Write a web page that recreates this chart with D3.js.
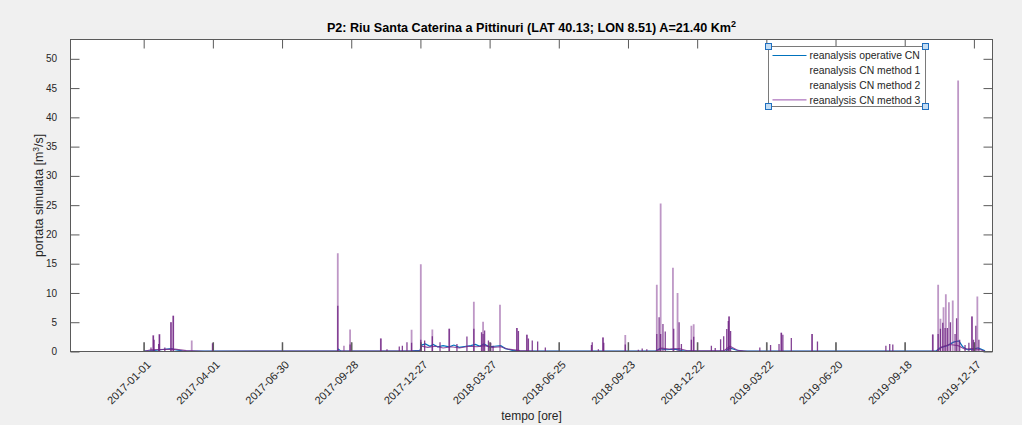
<!DOCTYPE html>
<html>
<head>
<meta charset="utf-8">
<script src="https://cdn.jsdelivr.net/npm/d3@7"></script>
<style>
  html, body { margin: 0; padding: 0; background: #f0f0f0; }
  svg { display: block; font-family: "Liberation Sans", Arial, Helvetica, sans-serif; }
</style>
</head>
<body>
<svg id="chart" width="1022" height="425"></svg>
<script>
// ---- Chart text ----
const titleMain = "P2: Riu Santa Caterina a Pittinuri (LAT 40.13; LON 8.51) A=21.40 Km";
const titleSup = "2";
const xLabel = "tempo [ore]";
const yLabelMain = "portata simulata [m";
const yLabelSup = "3";
const yLabelEnd = "/s]";

// ---- Axes ----
const xLimits = ["2016-09-27T19:00:00Z", "2020-01-10T05:00:00Z"];
const yLimits = [0, 53.3];
const yTicks = [0, 5, 10, 15, 20, 25, 30, 35, 40, 45, 50];
const xTickDates = ["2017-01-01", "2017-04-01", "2017-06-30", "2017-09-28", "2017-12-27",
  "2018-03-27", "2018-06-25", "2018-09-23", "2018-12-22", "2019-03-22",
  "2019-06-20", "2019-09-18", "2019-12-17"];

// ---- Legend ----
const legendNames = ["reanalysis operative CN", "reanalysis CN method 1",
  "reanalysis CN method 2", "reanalysis CN method 3"];

// ---- Series: reanalysis operative CN (slow flow, m3/s) ----
const operativeFlow = [
  ["2017-01-01", 0.05], ["2017-01-12", 0.15], ["2017-01-22", 0.3], ["2017-02-06", 0.5],
  ["2017-02-10", 0.3], ["2017-02-20", 0.1], ["2017-03-10", 0.05], ["2017-09-10", 0.05],
  ["2017-09-11", 0.4], ["2017-09-14", 0.05], ["2017-12-15", 0.1], ["2017-12-26", 0.2],
  ["2017-12-28", 1.1], ["2018-01-02", 1.3], ["2018-01-08", 0.9], ["2018-01-12", 1.2],
  ["2018-01-18", 0.8], ["2018-01-25", 1.0], ["2018-02-02", 0.8], ["2018-02-08", 1.1],
  ["2018-02-15", 0.7], ["2018-02-24", 0.9], ["2018-03-02", 1.0], ["2018-03-08", 1.2],
  ["2018-03-14", 0.9], ["2018-03-19", 1.3], ["2018-03-26", 0.8], ["2018-04-02", 0.9],
  ["2018-04-10", 1.0], ["2018-04-16", 0.5], ["2018-04-25", 0.2], ["2018-05-05", 0.1],
  ["2018-05-20", 0.05], ["2018-10-28", 0.05], ["2018-11-03", 0.5], ["2018-11-12", 0.3],
  ["2018-11-22", 0.4], ["2018-12-02", 0.15], ["2018-12-20", 0.05], ["2019-01-28", 0.1],
  ["2019-02-02", 0.6], ["2019-02-10", 0.25], ["2019-02-20", 0.05], ["2019-10-28", 0.05],
  ["2019-11-02", 0.6], ["2019-11-12", 1.0], ["2019-11-20", 1.6], ["2019-11-27", 1.8],
  ["2019-12-02", 0.8], ["2019-12-08", 0.3], ["2019-12-16", 0.4], ["2019-12-22", 0.6],
  ["2019-12-31", 0.1]
];

// ---- Series: reanalysis CN method 1 (quarterly check peaks) ----
const method1Peaks = xTickDates.map(d => [d, 1.6]);

// ---- Series: reanalysis CN method 2 (flood peaks) ----
const method2Peaks = [
  ["2017-01-13", 2.8], ["2017-01-21", 3.0], ["2017-02-05", 5.0], ["2017-02-08", 6.1],
  ["2017-03-04", 1.9], ["2017-09-10", 16.8], ["2017-09-18", 1.0], ["2017-09-26", 3.75],
  ["2017-11-05", 2.2], ["2017-12-15", 3.7], ["2017-12-27", 14.9], ["2018-01-11", 3.75],
  ["2018-02-02", 3.9], ["2018-03-06", 8.5], ["2018-03-18", 5.1], ["2018-04-09", 8.0],
  ["2018-05-01", 4.0], ["2018-05-14", 2.85], ["2018-08-21", 2.4], ["2018-09-19", 2.8],
  ["2018-10-30", 11.4], ["2018-11-04", 25.3], ["2018-11-20", 14.3], ["2018-11-26", 10.0],
  ["2018-12-14", 4.4], ["2018-12-17", 4.65], ["2019-02-01", 6.0], ["2019-04-10", 3.2],
  ["2019-05-20", 3.0], ["2019-10-24", 2.9], ["2019-10-31", 11.4], ["2019-11-03", 5.6],
  ["2019-11-07", 7.55], ["2019-11-10", 9.8], ["2019-11-14", 8.4], ["2019-11-19", 8.7],
  ["2019-11-26", 46.3], ["2019-12-14", 6.0], ["2019-12-21", 9.4]
];

// ---- Series: reanalysis CN method 3 (slow flow and peaks) ----
const method3Flow = [
  ["2017-01-01", 0.05], ["2017-01-10", 0.3], ["2017-02-10", 0.4], ["2017-02-25", 0.15],
  ["2017-03-20", 0.05], ["2017-12-26", 0.1], ["2017-12-28", 0.9], ["2018-01-05", 0.7],
  ["2018-01-15", 0.9], ["2018-01-25", 0.6], ["2018-02-05", 0.8], ["2018-02-15", 0.6],
  ["2018-02-28", 0.9], ["2018-03-10", 0.8], ["2018-03-20", 1.0], ["2018-03-30", 0.7],
  ["2018-04-10", 0.8], ["2018-04-20", 0.4], ["2018-05-05", 0.15], ["2018-05-25", 0.05],
  ["2018-10-30", 0.05], ["2018-11-05", 0.6], ["2018-11-15", 0.4], ["2018-11-28", 0.5],
  ["2018-12-10", 0.1], ["2019-01-25", 0.1], ["2019-02-02", 0.9], ["2019-02-12", 0.2],
  ["2019-02-25", 0.05], ["2019-10-30", 0.05], ["2019-11-05", 0.8], ["2019-11-15", 1.2],
  ["2019-11-26", 1.0], ["2019-12-05", 0.4], ["2019-12-15", 0.5], ["2019-12-25", 0.3],
  ["2019-12-31", 0.05]
];
const method3Peaks = [
  ["2017-01-10", 0.7], ["2017-01-13", 2.7], ["2017-01-14", 2.0], ["2017-01-20", 1.3],
  ["2017-01-21", 2.9], ["2017-01-28", 0.7], ["2017-02-05", 5.0], ["2017-02-08", 6.1],
  ["2017-03-31", 1.4], ["2017-09-10", 7.8], ["2017-09-26", 1.2], ["2017-11-05", 2.2],
  ["2017-11-13", 0.4], ["2017-11-29", 0.85], ["2017-12-03", 1.0], ["2017-12-09", 1.6],
  ["2017-12-15", 1.5], ["2017-12-27", 2.0], ["2018-01-01", 1.9], ["2018-01-11", 2.6],
  ["2018-01-21", 1.6], ["2018-02-02", 3.9], ["2018-02-12", 1.3], ["2018-02-25", 2.55],
  ["2018-03-06", 3.9], ["2018-03-16", 3.3], ["2018-03-18", 3.0], ["2018-03-20", 3.6],
  ["2018-03-25", 1.9], ["2018-03-28", 1.5], ["2018-03-31", 1.0], ["2018-05-01", 4.0],
  ["2018-05-03", 3.5], ["2018-05-14", 2.85], ["2018-05-16", 2.2], ["2018-05-21", 1.9],
  ["2018-05-28", 1.7], ["2018-06-07", 0.7], ["2018-08-06", 1.1], ["2018-08-07", 1.6],
  ["2018-08-15", 0.4], ["2018-08-21", 2.4], ["2018-08-22", 1.5], ["2018-09-19", 1.2],
  ["2018-10-06", 0.3], ["2018-10-11", 0.5], ["2018-10-17", 0.4], ["2018-10-30", 3.0],
  ["2018-11-02", 5.85], ["2018-11-04", 3.0], ["2018-11-07", 4.7], ["2018-11-10", 3.4],
  ["2018-11-21", 3.9], ["2018-11-28", 5.0], ["2018-12-01", 1.3], ["2018-12-14", 2.0],
  ["2018-12-17", 2.5], ["2019-01-09", 1.0], ["2019-01-14", 0.6], ["2019-01-21", 2.1],
  ["2019-01-25", 2.6], ["2019-01-29", 3.85], ["2019-01-31", 5.2], ["2019-02-01", 6.0],
  ["2019-02-03", 3.5], ["2019-03-13", 0.7], ["2019-03-27", 1.1], ["2019-04-07", 1.3],
  ["2019-04-10", 3.2], ["2019-04-12", 2.85], ["2019-04-23", 2.3], ["2019-05-20", 3.0],
  ["2019-05-27", 1.7], ["2019-08-24", 1.0], ["2019-08-29", 1.3], ["2019-09-02", 1.2],
  ["2019-10-24", 2.9], ["2019-10-31", 3.0], ["2019-11-03", 3.9], ["2019-11-06", 4.9],
  ["2019-11-09", 4.0], ["2019-11-12", 4.0], ["2019-11-16", 5.0], ["2019-11-22", 3.0],
  ["2019-11-24", 5.7], ["2019-11-28", 2.0], ["2019-12-05", 1.1], ["2019-12-10", 1.5],
  ["2019-12-14", 6.0], ["2019-12-16", 2.0], ["2019-12-19", 4.4], ["2019-12-23", 2.0]
];

// ---- Drawing ----
const parse = s => new Date(s.length === 10 ? s + "T12:00:00Z" : s);
const parseTick = s => new Date(s + "T00:00:00Z");

const svg = d3.select("#chart");
const plot = { left: 70.5, right: 992.5, top: 39.5, bottom: 351.5 };

const x = d3.scaleUtc().domain(xLimits.map(s => new Date(s))).range([plot.left, plot.right]);
const y = d3.scaleLinear().domain(yLimits).range([plot.bottom, plot.top]);

const colors = {
  blue: "#0072BD",
  purple: "#7E2F8E",
  darkPurple: "#6e2282",
  gray: "#4a4a4a",
  axis: "#5a5a5a",
  text: "#262626"
};

// axes background
svg.append("rect")
  .attr("x", plot.left).attr("y", plot.top)
  .attr("width", plot.right - plot.left).attr("height", plot.bottom - plot.top)
  .attr("fill", "#ffffff");

svg.append("defs").append("clipPath").attr("id", "plotClip")
  .append("rect")
  .attr("x", plot.left).attr("y", plot.top)
  .attr("width", plot.right - plot.left).attr("height", plot.bottom - plot.top);

const data = svg.append("g").attr("clip-path", "url(#plotClip)");

const flowLine = d3.line().x(d => x(parse(d[0]))).y(d => y(d[1]));

// vertical peak marks, rising from zero flow
function drawPeaks(rows, color, width, opacity) {
  data.append("g")
    .selectAll("line")
    .data(rows)
    .join("line")
    .attr("x1", d => x(parse(d[0])))
    .attr("x2", d => x(parse(d[0])))
    .attr("y1", y(0))
    .attr("y2", d => y(d[1]))
    .attr("stroke", color)
    .attr("stroke-width", width)
    .attr("stroke-opacity", opacity);
}

// method 1 quarterly peaks
drawPeaks(method1Peaks, colors.gray, 1.6, 0.7);

// operative CN slow flow
data.append("path").datum(operativeFlow)
  .attr("d", flowLine)
  .attr("fill", "none").attr("stroke", colors.blue).attr("stroke-width", 1.2);

// method 2 peaks (translucent)
drawPeaks(method2Peaks, colors.purple, 1.8, 0.5);

// method 3 slow flow and peaks
data.append("path").datum(method3Flow)
  .attr("d", flowLine)
  .attr("fill", "none").attr("stroke", colors.purple).attr("stroke-width", 1.1)
  .attr("stroke-opacity", 0.85);
drawPeaks(method3Peaks, colors.darkPurple, 1.3, 0.85);

// ---- Axes box and ticks ----
const axisG = svg.append("g");
axisG.append("rect")
  .attr("x", plot.left).attr("y", plot.top)
  .attr("width", plot.right - plot.left).attr("height", plot.bottom - plot.top)
  .attr("fill", "none").attr("stroke", colors.axis).attr("stroke-width", 1);

const tickLen = 9;

// y axis (left and right), ticks pointing inward
axisG.append("g").attr("transform", `translate(${plot.left},0)`)
  .call(d3.axisRight(y).tickValues(yTicks).tickSize(tickLen).tickFormat(""))
  .call(g => g.select(".domain").remove())
  .call(g => g.selectAll(".tick line").attr("stroke", colors.axis));
axisG.append("g").attr("transform", `translate(${plot.right},0)`)
  .call(d3.axisLeft(y).tickValues(yTicks).tickSize(tickLen).tickFormat(""))
  .call(g => g.select(".domain").remove())
  .call(g => g.selectAll(".tick line").attr("stroke", colors.axis));

// y tick labels
axisG.append("g").selectAll("text")
  .data(yTicks).join("text")
  .attr("x", 57).attr("y", d => y(d))
  .attr("dy", "0.36em")
  .attr("text-anchor", "end")
  .attr("font-size", 10).attr("fill", colors.text)
  .text(d => d);

// x ticks (top and bottom, inward)
const xTicks = xTickDates.map(parseTick);
axisG.append("g").attr("transform", `translate(0,${plot.bottom})`)
  .call(d3.axisTop(x).tickValues(xTicks).tickSize(tickLen).tickFormat(""))
  .call(g => g.select(".domain").remove())
  .call(g => g.selectAll(".tick line").attr("stroke", colors.axis));
axisG.append("g").attr("transform", `translate(0,${plot.top})`)
  .call(d3.axisBottom(x).tickValues(xTicks).tickSize(tickLen).tickFormat(""))
  .call(g => g.select(".domain").remove())
  .call(g => g.selectAll(".tick line").attr("stroke", colors.axis));

// rotated x tick labels
axisG.append("g").selectAll("text")
  .data(xTickDates).join("text")
  .attr("transform", d => `translate(${x(parseTick(d)) + 5},${plot.bottom + 11}) rotate(-45)`)
  .attr("text-anchor", "end")
  .attr("dy", "0.36em")
  .attr("font-size", 11).attr("fill", colors.text)
  .text(d => d);

// ---- Titles ----
const title = svg.append("text")
  .attr("x", (plot.left + plot.right) / 2).attr("y", 32)
  .attr("text-anchor", "middle")
  .attr("font-size", 12.6).attr("font-weight", "bold").attr("fill", "#000");
title.append("tspan").text(titleMain);
title.append("tspan").attr("dy", -5).attr("font-size", 9).text(titleSup);

svg.append("text")
  .attr("x", (plot.left + plot.right) / 2).attr("y", 420)
  .attr("text-anchor", "middle")
  .attr("font-size", 12).attr("fill", colors.text)
  .text(xLabel);

const yl = svg.append("text")
  .attr("transform", `translate(43,${(plot.top + plot.bottom) / 2}) rotate(-90)`)
  .attr("text-anchor", "middle")
  .attr("font-size", 12.4).attr("fill", colors.text);
yl.append("tspan").text(yLabelMain);
yl.append("tspan").attr("dy", -4).attr("font-size", 8.5).text(yLabelSup);
yl.append("tspan").attr("dy", 4).text(yLabelEnd);

// ---- Legend ----
const legendBox = { x: 768.5, y: 46.5, w: 157, h: 60 };
const lg = svg.append("g");
lg.append("rect")
  .attr("x", legendBox.x).attr("y", legendBox.y)
  .attr("width", legendBox.w).attr("height", legendBox.h)
  .attr("fill", "#ffffff").attr("stroke", "#7a7a7a").attr("stroke-width", 1);

const legendSwatch = [colors.blue, null, null, "#9a52ad"];
const rowY = i => legendBox.y + 9 + i * 14.8;
legendNames.forEach((name, i) => {
  if (legendSwatch[i]) {
    lg.append("line")
      .attr("x1", legendBox.x + 4).attr("x2", legendBox.x + 38)
      .attr("y1", rowY(i)).attr("y2", rowY(i))
      .attr("stroke", legendSwatch[i]).attr("stroke-width", 1);
  }
  lg.append("text")
    .attr("x", legendBox.x + 41).attr("y", rowY(i))
    .attr("dy", "0.36em")
    .attr("font-size", 10.4).attr("fill", colors.text)
    .text(name);
});

// selection handles on the legend corners
const corners = [
  [legendBox.x, legendBox.y], [legendBox.x + legendBox.w, legendBox.y],
  [legendBox.x, legendBox.y + legendBox.h], [legendBox.x + legendBox.w, legendBox.y + legendBox.h]
];
lg.selectAll("rect.handle").data(corners).join("rect")
  .attr("class", "handle")
  .attr("x", d => d[0] - 3).attr("y", d => d[1] - 3)
  .attr("width", 6).attr("height", 6)
  .attr("fill", "#c4ddf3").attr("stroke", "#1f6fbf").attr("stroke-width", 1);
</script>
</body>
</html>
